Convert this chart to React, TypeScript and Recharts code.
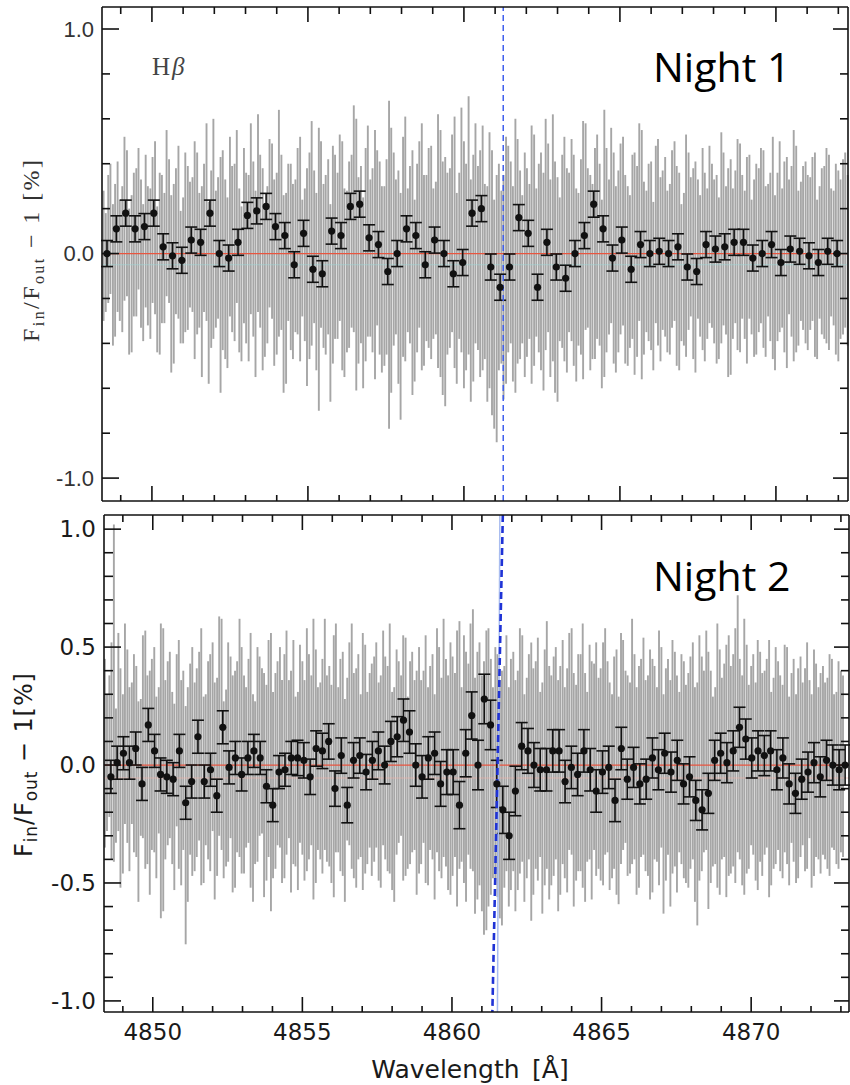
import React from 'react';
import { ComposedChart, Scatter, ErrorBar, XAxis, YAxis, ReferenceLine } from 'recharts';

// ---------- Night 1 (top panel) ----------
const topBinW = [
  4848.56, 4848.86, 4849.16, 4849.46, 4849.76, 4850.06, 4850.36, 4850.66, 4850.96, 4851.26,
  4851.56, 4851.86, 4852.16, 4852.46, 4852.76, 4853.06, 4853.36, 4853.66, 4853.96, 4854.26,
  4854.56, 4854.86, 4855.16, 4855.46, 4855.76, 4856.06, 4856.36, 4856.66, 4856.96, 4857.26,
  4857.56, 4857.86, 4858.16, 4858.46, 4858.76, 4859.06, 4859.36, 4859.66, 4859.96, 4860.26,
  4860.56, 4860.86, 4861.16, 4861.46, 4861.76, 4862.06, 4862.36, 4862.66, 4862.96, 4863.26,
  4863.56, 4863.86, 4864.16, 4864.46, 4864.76, 4865.06, 4865.36, 4865.66, 4865.96, 4866.26,
  4866.56, 4866.86, 4867.16, 4867.46, 4867.76, 4868.06, 4868.36, 4868.66, 4868.96, 4869.26,
  4869.56, 4869.86, 4870.16, 4870.46, 4870.76, 4871.06, 4871.36, 4871.66, 4871.96,
];
const topBinV = [
  0.00, 0.11, 0.18, 0.11, 0.12, 0.18, 0.03, -0.01, -0.03, 0.06,
  0.05, 0.18, 0.00, -0.02, 0.05, 0.17, 0.19, 0.21, 0.12, 0.08,
  -0.05, 0.09, -0.07, -0.09, 0.10, 0.08, 0.21, 0.22, 0.07, 0.04,
  -0.08, 0.00, 0.11, 0.08, -0.05, 0.06, 0.00, -0.09, -0.04, 0.18,
  0.20, -0.06, -0.15, -0.06, 0.16, 0.09, -0.15, 0.05, -0.06, -0.11,
  0.00, 0.08, 0.22, 0.11, -0.02, 0.06, -0.07, 0.04, 0.00, 0.01,
  0.00, 0.03, -0.06, -0.08, 0.04, 0.02, 0.03, 0.05, 0.05, -0.02,
  0.00, 0.04, -0.04, 0.02, 0.01, -0.01, -0.04, 0.01, 0.00,
];
const TOP_BIN_ERR = 0.058;

const topGrayW = [
  4848.45, 4848.60, 4848.75, 4848.90, 4849.05, 4849.20, 4849.35, 4849.50, 4849.65, 4849.80,
  4849.95, 4850.10, 4850.25, 4850.40, 4850.55, 4850.70, 4850.85, 4851.00, 4851.15, 4851.30,
  4851.45, 4851.60, 4851.75, 4851.90, 4852.05, 4852.20, 4852.35, 4852.50, 4852.65, 4852.80,
  4852.95, 4853.10, 4853.25, 4853.40, 4853.55, 4853.70, 4853.85, 4854.00, 4854.15, 4854.30,
  4854.45, 4854.60, 4854.75, 4854.90, 4855.05, 4855.20, 4855.35, 4855.50, 4855.65, 4855.80,
  4855.95, 4856.10, 4856.25, 4856.40, 4856.55, 4856.70, 4856.85, 4857.00, 4857.15, 4857.30,
  4857.45, 4857.60, 4857.75, 4857.90, 4858.05, 4858.20, 4858.35, 4858.50, 4858.65, 4858.80,
  4858.95, 4859.10, 4859.25, 4859.40, 4859.55, 4859.70, 4859.85, 4860.00, 4860.15, 4860.30,
  4860.45, 4860.60, 4860.75, 4860.90, 4861.05, 4861.20, 4861.35, 4861.50, 4861.65, 4861.80,
  4861.95, 4862.10, 4862.25, 4862.40, 4862.55, 4862.70, 4862.85, 4863.00, 4863.15, 4863.30,
  4863.45, 4863.60, 4863.75, 4863.90, 4864.05, 4864.20, 4864.35, 4864.50, 4864.65, 4864.80,
  4864.95, 4865.10, 4865.25, 4865.40, 4865.55, 4865.70, 4865.85, 4866.00, 4866.15, 4866.30,
  4866.45, 4866.60, 4866.75, 4866.90, 4867.05, 4867.20, 4867.35, 4867.50, 4867.65, 4867.80,
  4867.95, 4868.10, 4868.25, 4868.40, 4868.55, 4868.70, 4868.85, 4869.00, 4869.15, 4869.30,
  4869.45, 4869.60, 4869.75, 4869.90, 4870.05, 4870.20, 4870.35, 4870.50, 4870.65, 4870.80,
  4870.95, 4871.10, 4871.25, 4871.40, 4871.55, 4871.70, 4871.85, 4872.00, 4872.15, 4872.30,
];
const topGrayHi = [
  0.28, 0.35, 0.22, 0.41, 0.30, 0.46, 0.26, 0.38, 0.33, 0.44,
  0.29, 0.50, 0.36, 0.27, 0.42, 0.31, 0.48, 0.25, 0.39, 0.34,
  0.45, 0.30, 0.58, 0.37, 0.28, 0.43, 0.33, 0.52, 0.40, 0.29,
  0.47, 0.35, 0.41, 0.62, 0.38, 0.30, 0.49, 0.36, 0.44, 0.27,
  0.40, 0.33, 0.52, 0.29, 0.45, 0.37, 0.56, 0.31, 0.42, 0.48,
  0.36, 0.50, 0.28, 0.44, 0.60, 0.39, 0.47, 0.33, 0.55, 0.41,
  0.30, 0.68, 0.45, 0.37, 0.52, 0.29, 0.46, 0.40, 0.58, 0.35,
  0.48, 0.32, 0.55, 0.43, 0.38, 0.61, 0.36, 0.50, 0.70, 0.44,
  0.39, 0.57, 0.30, 0.46, 0.35, 0.28, 0.52, 0.41, 0.60, 0.37,
  0.45, 0.31, 0.53, 0.40, 0.36, 0.49, 0.62, 0.34, 0.44, 0.38,
  0.51, 0.29, 0.42, 0.58, 0.35, 0.47, 0.40, 0.64, 0.33, 0.45,
  0.37, 0.52, 0.30, 0.44, 0.39, 0.55, 0.28, 0.41, 0.48, 0.34,
  0.43, 0.31, 0.50, 0.36, 0.27, 0.45, 0.38, 0.33, 0.47, 0.29,
  0.40, 0.35, 0.54, 0.30, 0.42, 0.37, 0.49, 0.28, 0.44, 0.33,
  0.38, 0.46, 0.31, 0.52, 0.36, 0.29, 0.43, 0.39, 0.48, 0.32,
  0.41, 0.34, 0.45, 0.30, 0.39, 0.44, 0.28, 0.37, 0.42, 0.35,
];
const topGrayLo = [
  -0.30, -0.22, -0.41, -0.26, -0.35, -0.19, -0.44, -0.28, -0.33, -0.24,
  -0.38, -0.27, -0.45, -0.31, -0.22, -0.49, -0.29, -0.40, -0.34, -0.26,
  -0.36, -0.55, -0.30, -0.42, -0.33, -0.62, -0.47, -0.28, -0.39, -0.44,
  -0.31, -0.48, -0.37, -0.26, -0.52, -0.40, -0.29, -0.45, -0.34, -0.58,
  -0.43, -0.35, -0.48, -0.39, -0.47, -0.31, -0.70, -0.42, -0.36, -0.49,
  -0.38, -0.52, -0.44, -0.33, -0.61, -0.40, -0.48, -0.37, -0.56, -0.45,
  -0.50, -0.78, -0.41, -0.58, -0.46, -0.35, -0.63, -0.44, -0.52, -0.39,
  -0.47, -0.36, -0.55, -0.68, -0.42, -0.51, -0.38, -0.60, -0.45, -0.57,
  -0.43, -0.52, -0.66, -0.72, -0.84, -0.49, -0.58, -0.40, -0.62, -0.47,
  -0.55, -0.38, -0.50, -0.44, -0.61, -0.35, -0.48, -0.66, -0.42, -0.53,
  -0.39, -0.57, -0.45, -0.34, -0.52, -0.47, -0.41, -0.55, -0.36, -0.49,
  -0.44, -0.32, -0.50, -0.38, -0.46, -0.56, -0.35, -0.43, -0.31, -0.48,
  -0.37, -0.45, -0.30, -0.52, -0.41, -0.34, -0.47, -0.29, -0.43, -0.38,
  -0.33, -0.49, -0.40, -0.36, -0.54, -0.31, -0.44, -0.38, -0.29, -0.46,
  -0.35, -0.42, -0.28, -0.47, -0.39, -0.33, -0.51, -0.37, -0.44, -0.30,
  -0.40, -0.34, -0.46, -0.29, -0.38, -0.43, -0.32, -0.48, -0.36, -0.41,
];
// interleaved pixels (half-step)
const topGray2W = [
  4848.52, 4848.67, 4848.82, 4848.97, 4849.12, 4849.27, 4849.42, 4849.57, 4849.72, 4849.87,
  4850.02, 4850.17, 4850.32, 4850.47, 4850.62, 4850.77, 4850.92, 4851.07, 4851.22, 4851.37,
  4851.52, 4851.67, 4851.82, 4851.97, 4852.12, 4852.27, 4852.42, 4852.57, 4852.72, 4852.87,
  4853.02, 4853.17, 4853.32, 4853.47, 4853.62, 4853.77, 4853.92, 4854.07, 4854.22, 4854.37,
  4854.52, 4854.67, 4854.82, 4854.97, 4855.12, 4855.27, 4855.42, 4855.57, 4855.72, 4855.87,
  4856.02, 4856.17, 4856.32, 4856.47, 4856.62, 4856.77, 4856.92, 4857.07, 4857.22, 4857.37,
  4857.52, 4857.67, 4857.82, 4857.97, 4858.12, 4858.27, 4858.42, 4858.57, 4858.72, 4858.87,
  4859.02, 4859.17, 4859.32, 4859.47, 4859.62, 4859.77, 4859.92, 4860.07, 4860.22, 4860.37,
  4860.52, 4860.67, 4860.82, 4860.97, 4861.12, 4861.27, 4861.42, 4861.57, 4861.72, 4861.87,
  4862.02, 4862.17, 4862.32, 4862.47, 4862.62, 4862.77, 4862.92, 4863.07, 4863.22, 4863.37,
  4863.52, 4863.67, 4863.82, 4863.97, 4864.12, 4864.27, 4864.42, 4864.57, 4864.72, 4864.87,
  4865.02, 4865.17, 4865.32, 4865.47, 4865.62, 4865.77, 4865.92, 4866.07, 4866.22, 4866.37,
  4866.52, 4866.67, 4866.82, 4866.97, 4867.12, 4867.27, 4867.42, 4867.57, 4867.72, 4867.87,
  4868.02, 4868.17, 4868.32, 4868.47, 4868.62, 4868.77, 4868.92, 4869.07, 4869.22, 4869.37,
  4869.52, 4869.67, 4869.82, 4869.97, 4870.12, 4870.27, 4870.42, 4870.57, 4870.72, 4870.87,
  4871.02, 4871.17, 4871.32, 4871.47, 4871.62, 4871.77, 4871.92, 4872.07, 4872.22,
];
const topGray2Hi = [
  0.18, 0.40, 0.31, 0.24, 0.52, 0.20, 0.36, 0.47, 0.22, 0.30,
  0.43, 0.21, 0.35, 0.55, 0.26, 0.38, 0.19, 0.45, 0.32, 0.50,
  0.27, 0.40, 0.23, 0.60, 0.34, 0.46, 0.25, 0.39, 0.55, 0.21,
  0.36, 0.58, 0.28, 0.44, 0.22, 0.51, 0.33, 0.64, 0.26, 0.40,
  0.31, 0.47, 0.24, 0.38, 0.59, 0.27, 0.50, 0.35, 0.22, 0.44,
  0.53, 0.29, 0.41, 0.66, 0.34, 0.25, 0.57, 0.38, 0.46, 0.30,
  0.42, 0.56, 0.33, 0.27, 0.61, 0.39, 0.24, 0.50, 0.35, 0.47,
  0.29, 0.62, 0.41, 0.36, 0.53, 0.27, 0.65, 0.40, 0.33, 0.58,
  0.46, 0.31, 0.54, 0.24, 0.40, 0.35, 0.48, 0.30, 0.51, 0.26,
  0.38, 0.57, 0.29, 0.45, 0.60, 0.33, 0.41, 0.25, 0.52, 0.36,
  0.44, 0.27, 0.59, 0.38, 0.31, 0.53, 0.24, 0.47, 0.56, 0.30,
  0.49, 0.35, 0.26, 0.45, 0.58, 0.32, 0.40, 0.23, 0.51, 0.37,
  0.28, 0.46, 0.39, 0.22, 0.53, 0.34, 0.41, 0.26, 0.36, 0.48,
  0.33, 0.25, 0.45, 0.38, 0.29, 0.51, 0.35, 0.43, 0.24, 0.40,
  0.47, 0.30, 0.36, 0.26, 0.50, 0.41, 0.33, 0.55, 0.28, 0.39,
  0.35, 0.43, 0.24, 0.38, 0.47, 0.29, 0.40, 0.33, 0.45,
];
const topGray2Lo = [
  -0.26, -0.18, -0.37, -0.30, -0.21, -0.45, -0.28, -0.16, -0.39, -0.32,
  -0.22, -0.44, -0.31, -0.19, -0.53, -0.27, -0.40, -0.35, -0.24, -0.47,
  -0.33, -0.26, -0.58, -0.38, -0.29, -0.43, -0.51, -0.35, -0.22, -0.48,
  -0.40, -0.27, -0.55, -0.33, -0.46, -0.24, -0.50, -0.37, -0.62, -0.30,
  -0.47, -0.36, -0.28, -0.59, -0.41, -0.52, -0.33, -0.45, -0.66, -0.38,
  -0.30, -0.55, -0.42, -0.35, -0.49, -0.60, -0.37, -0.44, -0.32, -0.53,
  -0.45, -0.62, -0.36, -0.74, -0.48, -0.40, -0.57, -0.33, -0.50, -0.42,
  -0.38, -0.51, -0.63, -0.45, -0.35, -0.58, -0.44, -0.52, -0.66, -0.40,
  -0.55, -0.47, -0.60, -0.78, -0.52, -0.65, -0.44, -0.57, -0.49, -0.40,
  -0.46, -0.58, -0.37, -0.52, -0.43, -0.55, -0.62, -0.39, -0.48, -0.35,
  -0.50, -0.41, -0.56, -0.33, -0.47, -0.38, -0.60, -0.44, -0.31, -0.53,
  -0.36, -0.49, -0.42, -0.54, -0.30, -0.45, -0.39, -0.52, -0.41, -0.34,
  -0.44, -0.33, -0.50, -0.39, -0.46, -0.28, -0.53, -0.37, -0.48, -0.31,
  -0.40, -0.47, -0.32, -0.55, -0.38, -0.43, -0.29, -0.49, -0.36, -0.45,
  -0.31, -0.46, -0.39, -0.52, -0.35, -0.44, -0.27, -0.48, -0.41, -0.34,
  -0.43, -0.30, -0.47, -0.36, -0.40, -0.28, -0.45, -0.38, -0.33,
];

// ---------- Night 2 (bottom panel) ----------
const botBinW = [
  4848.60, 4848.81, 4849.02, 4849.22, 4849.43, 4849.64, 4849.85, 4850.06, 4850.26, 4850.47,
  4850.68, 4850.89, 4851.10, 4851.30, 4851.51, 4851.72, 4851.93, 4852.14, 4852.34, 4852.55,
  4852.76, 4852.97, 4853.18, 4853.38, 4853.59, 4853.80, 4854.01, 4854.22, 4854.42, 4854.63,
  4854.84, 4855.05, 4855.26, 4855.46, 4855.67, 4855.88, 4856.09, 4856.30, 4856.50, 4856.71,
  4856.92, 4857.13, 4857.34, 4857.54, 4857.75, 4857.96, 4858.17, 4858.38, 4858.58, 4858.79,
  4859.00, 4859.21, 4859.42, 4859.62, 4859.83, 4860.04, 4860.25, 4860.46, 4860.66, 4860.87,
  4861.08, 4861.29, 4861.50, 4861.70, 4861.91, 4862.12, 4862.33, 4862.54, 4862.74, 4862.95,
  4863.16, 4863.37, 4863.58, 4863.78, 4863.99, 4864.20, 4864.41, 4864.62, 4864.82, 4865.03,
  4865.24, 4865.45, 4865.66, 4865.86, 4866.07, 4866.28, 4866.49, 4866.70, 4866.90, 4867.11,
  4867.32, 4867.53, 4867.74, 4867.94, 4868.15, 4868.36, 4868.57, 4868.78, 4868.98, 4869.19,
  4869.40, 4869.61, 4869.82, 4870.02, 4870.23, 4870.44, 4870.65, 4870.86, 4871.06, 4871.27,
  4871.48, 4871.69, 4871.90, 4872.10, 4872.31, 4872.52, 4872.73, 4872.94, 4873.14,
];
const botBinV = [
  -0.05, 0.01, 0.05, 0.01, 0.07, -0.08, 0.17, 0.06, -0.04, -0.05,
  -0.06, 0.06, -0.16, -0.07, 0.12, -0.07, -0.02, -0.13, 0.16, -0.01,
  0.03, -0.04, 0.03, 0.06, 0.03, -0.09, -0.17, -0.03, -0.02, 0.03,
  0.03, 0.02, -0.05, 0.07, 0.06, 0.10, -0.10, 0.04, -0.17, 0.02,
  0.04, -0.03, 0.02, 0.06, 0.00, 0.10, 0.12, 0.19, 0.14, 0.00,
  -0.05, 0.03, 0.05, -0.08, -0.03, -0.03, -0.17, 0.05, 0.21, 0.00,
  0.28, 0.17, -0.08, -0.19, -0.30, -0.11, 0.08, 0.06, 0.00, -0.02,
  -0.02, 0.06, 0.06, -0.07, -0.01, -0.04, 0.06, -0.02, -0.11, -0.03,
  -0.01, -0.15, 0.07, -0.06, -0.01, -0.08, -0.06, 0.03, -0.02, 0.05,
  -0.03, 0.02, -0.08, -0.05, -0.15, -0.19, -0.12, 0.02, 0.05, 0.01,
  0.06, 0.16, 0.11, 0.03, 0.06, 0.04, 0.06, -0.02, 0.03, -0.08,
  -0.12, -0.06, -0.03, 0.01, -0.05, 0.02, 0.00, -0.02, 0.00,
];
const botBinE = [
  0.07, 0.07, 0.07, 0.07, 0.07, 0.07, 0.07, 0.07, 0.07, 0.07,
  0.07, 0.07, 0.07, 0.07, 0.07, 0.07, 0.07, 0.07, 0.07, 0.07,
  0.07, 0.07, 0.07, 0.07, 0.07, 0.07, 0.07, 0.07, 0.07, 0.07,
  0.075, 0.075, 0.075, 0.075, 0.075, 0.075, 0.075, 0.075, 0.075, 0.075,
  0.075, 0.075, 0.08, 0.08, 0.08, 0.085, 0.085, 0.09, 0.09, 0.09,
  0.09, 0.09, 0.09, 0.095, 0.095, 0.095, 0.1, 0.1, 0.1, 0.105,
  0.105, 0.105, 0.1, 0.1, 0.1, 0.105, 0.1, 0.095, 0.095, 0.09,
  0.09, 0.09, 0.09, 0.09, 0.09, 0.09, 0.09, 0.09, 0.09, 0.09,
  0.09, 0.09, 0.09, 0.085, 0.085, 0.085, 0.085, 0.085, 0.085, 0.085,
  0.085, 0.085, 0.085, 0.085, 0.085, 0.085, 0.085, 0.085, 0.085, 0.085,
  0.085, 0.085, 0.085, 0.085, 0.085, 0.085, 0.085, 0.085, 0.085, 0.085,
  0.085, 0.085, 0.085, 0.085, 0.085, 0.085, 0.085, 0.085, 0.085,
];

const botGrayW = [
  4848.40, 4848.55, 4848.70, 4848.85, 4849.00, 4849.15, 4849.30, 4849.45, 4849.60, 4849.75,
  4849.90, 4850.05, 4850.20, 4850.35, 4850.50, 4850.65, 4850.80, 4850.95, 4851.10, 4851.25,
  4851.40, 4851.55, 4851.70, 4851.85, 4852.00, 4852.15, 4852.30, 4852.45, 4852.60, 4852.75,
  4852.90, 4853.05, 4853.20, 4853.35, 4853.50, 4853.65, 4853.80, 4853.95, 4854.10, 4854.25,
  4854.40, 4854.55, 4854.70, 4854.85, 4855.00, 4855.15, 4855.30, 4855.45, 4855.60, 4855.75,
  4855.90, 4856.05, 4856.20, 4856.35, 4856.50, 4856.65, 4856.80, 4856.95, 4857.10, 4857.25,
  4857.40, 4857.55, 4857.70, 4857.85, 4858.00, 4858.15, 4858.30, 4858.45, 4858.60, 4858.75,
  4858.90, 4859.05, 4859.20, 4859.35, 4859.50, 4859.65, 4859.80, 4859.95, 4860.10, 4860.25,
  4860.40, 4860.55, 4860.70, 4860.85, 4861.00, 4861.15, 4861.30, 4861.45, 4861.60, 4861.75,
  4861.90, 4862.05, 4862.20, 4862.35, 4862.50, 4862.65, 4862.80, 4862.95, 4863.10, 4863.25,
  4863.40, 4863.55, 4863.70, 4863.85, 4864.00, 4864.15, 4864.30, 4864.45, 4864.60, 4864.75,
  4864.90, 4865.05, 4865.20, 4865.35, 4865.50, 4865.65, 4865.80, 4865.95, 4866.10, 4866.25,
  4866.40, 4866.55, 4866.70, 4866.85, 4867.00, 4867.15, 4867.30, 4867.45, 4867.60, 4867.75,
  4867.90, 4868.05, 4868.20, 4868.35, 4868.50, 4868.65, 4868.80, 4868.95, 4869.10, 4869.25,
  4869.40, 4869.55, 4869.70, 4869.85, 4870.00, 4870.15, 4870.30, 4870.45, 4870.60, 4870.75,
  4870.90, 4871.05, 4871.20, 4871.35, 4871.50, 4871.65, 4871.80, 4871.95, 4872.10, 4872.25,
  4872.40, 4872.55, 4872.70, 4872.85, 4873.00,
];
const botGrayHi = [
  0.45, 0.38, 1.02, 0.56, 0.30, 0.49, 0.35, 0.42, 0.28, 0.57,
  0.40, 0.50, 0.33, 0.58, 0.44, 0.31, 0.47, 0.36, 0.25, 0.43,
  0.35, 0.48, 0.29, 0.44, 0.52, 0.37, 0.62, 0.32, 0.46, 0.40,
  0.62, 0.38, 0.45, 0.30, 0.50, 0.41, 0.34, 0.56, 0.39, 0.50,
  0.47, 0.36, 0.53, 0.31, 0.44, 0.58, 0.38, 0.49, 0.35, 0.62,
  0.42, 0.55, 0.33, 0.48, 0.37, 0.60, 0.41, 0.30, 0.51, 0.39,
  0.46, 0.35, 0.57, 0.42, 0.31, 0.49, 0.38, 0.54, 0.44, 0.36,
  0.50, 0.40, 0.33, 0.47, 0.58, 0.37, 0.45, 0.52, 0.39, 0.61,
  0.55, 0.43, 0.66, 0.48, 0.38, 0.57, 0.45, 0.50, 0.36, 0.42,
  0.33, 0.48, 0.40, 0.55, 0.37, 0.52, 0.44, 0.31, 0.49, 0.42,
  0.46, 0.36, 0.53, 0.41, 0.58, 0.34, 0.47, 0.39, 0.51, 0.43,
  0.37, 0.52, 0.44, 0.30, 0.49, 0.56, 0.40, 0.35, 0.47, 0.42,
  0.54, 0.38, 0.45, 0.33, 0.50, 0.41, 0.36, 0.48, 0.31, 0.44,
  0.39, 0.52, 0.35, 0.46, 0.57, 0.40, 0.33, 0.49, 0.43, 0.55,
  0.47, 0.72, 0.38, 0.51, 0.42, 0.35, 0.48, 0.40, 0.53, 0.37,
  0.44, 0.34, 0.50, 0.39, 0.30, 0.46, 0.41, 0.36, 0.49, 0.33,
  0.42, 0.37, 0.45, 0.31, 0.40,
];
const botGrayLo = [
  -0.35, -0.22, -0.41, -0.28, -0.46, -0.33, -0.25, -0.39, -0.30, -0.44,
  -0.55, -0.37, -0.29, -0.62, -0.34, -0.42, -0.26, -0.51, -0.76, -0.38,
  -0.45, -0.32, -0.50, -0.40, -0.28, -0.47, -0.36, -0.43, -0.31, -0.52,
  -0.39, -0.46, -0.33, -0.58, -0.41, -0.29, -0.49, -0.62, -0.44, -0.35,
  -0.48, -0.31, -0.42, -0.53, -0.38, -0.45, -0.34, -0.50, -0.40, -0.36,
  -0.43, -0.56, -0.37, -0.47, -0.32, -0.44, -0.52, -0.39, -0.46, -0.35,
  -0.41, -0.49, -0.34, -0.45, -0.53, -0.38, -0.30, -0.47, -0.42, -0.36,
  -0.46, -0.33, -0.51, -0.40, -0.37, -0.48, -0.43, -0.55, -0.39, -0.44,
  -0.50, -0.38, -0.45, -0.57, -0.62, -0.70, -0.55, -0.48, -0.65, -0.52,
  -0.60, -0.45, -0.53, -0.41, -0.48, -0.66, -0.44, -0.39, -0.51, -0.57,
  -0.47, -0.62, -0.42, -0.54, -0.38, -0.49, -0.45, -0.58, -0.40, -0.36,
  -0.44, -0.51, -0.37, -0.48, -0.55, -0.42, -0.33, -0.46, -0.40, -0.52,
  -0.38, -0.47, -0.54, -0.41, -0.35, -0.49, -0.60, -0.43, -0.37, -0.48,
  -0.52, -0.40, -0.68, -0.45, -0.36, -0.50, -0.42, -0.55, -0.39, -0.47,
  -0.43, -0.37, -0.51, -0.46, -0.34, -0.49, -0.41, -0.38, -0.56, -0.44,
  -0.36, -0.48, -0.42, -0.33, -0.50, -0.39, -0.45, -0.31, -0.47, -0.40,
  -0.38, -0.44, -0.35, -0.42, -0.37,
];
const botGray2W = [
  4848.47, 4848.62, 4848.77, 4848.92, 4849.07, 4849.22, 4849.37, 4849.52, 4849.67, 4849.82,
  4849.97, 4850.12, 4850.27, 4850.42, 4850.57, 4850.72, 4850.87, 4851.02, 4851.17, 4851.32,
  4851.47, 4851.62, 4851.77, 4851.92, 4852.07, 4852.22, 4852.37, 4852.52, 4852.67, 4852.82,
  4852.97, 4853.12, 4853.27, 4853.42, 4853.57, 4853.72, 4853.87, 4854.02, 4854.17, 4854.32,
  4854.47, 4854.62, 4854.77, 4854.92, 4855.07, 4855.22, 4855.37, 4855.52, 4855.67, 4855.82,
  4855.97, 4856.12, 4856.27, 4856.42, 4856.57, 4856.72, 4856.87, 4857.02, 4857.17, 4857.32,
  4857.47, 4857.62, 4857.77, 4857.92, 4858.07, 4858.22, 4858.37, 4858.52, 4858.67, 4858.82,
  4858.97, 4859.12, 4859.27, 4859.42, 4859.57, 4859.72, 4859.87, 4860.02, 4860.17, 4860.32,
  4860.47, 4860.62, 4860.77, 4860.92, 4861.07, 4861.22, 4861.37, 4861.52, 4861.67, 4861.82,
  4861.97, 4862.12, 4862.27, 4862.42, 4862.57, 4862.72, 4862.87, 4863.02, 4863.17, 4863.32,
  4863.47, 4863.62, 4863.77, 4863.92, 4864.07, 4864.22, 4864.37, 4864.52, 4864.67, 4864.82,
  4864.97, 4865.12, 4865.27, 4865.42, 4865.57, 4865.72, 4865.87, 4866.02, 4866.17, 4866.32,
  4866.47, 4866.62, 4866.77, 4866.92, 4867.07, 4867.22, 4867.37, 4867.52, 4867.67, 4867.82,
  4867.97, 4868.12, 4868.27, 4868.42, 4868.57, 4868.72, 4868.87, 4869.02, 4869.17, 4869.32,
  4869.47, 4869.62, 4869.77, 4869.92, 4870.07, 4870.22, 4870.37, 4870.52, 4870.67, 4870.82,
  4870.97, 4871.12, 4871.27, 4871.42, 4871.57, 4871.72, 4871.87, 4872.02, 4872.17, 4872.32,
  4872.47, 4872.62, 4872.77, 4872.92, 4873.07,
];
const botGray2Hi = [
  0.30, 0.52, 0.24, 0.41, 0.60, 0.33, 0.47, 0.27, 0.55, 0.38,
  0.45, 0.29, 0.60, 0.36, 0.48, 0.26, 0.53, 0.40, 0.33, 0.50,
  0.41, 0.58, 0.30, 0.47, 0.35, 0.63, 0.27, 0.52, 0.38, 0.44,
  0.50, 0.33, 0.56, 0.27, 0.46, 0.39, 0.53, 0.31, 0.44, 0.36,
  0.57, 0.40, 0.29, 0.51, 0.36, 0.47, 0.62, 0.33, 0.45, 0.38,
  0.34, 0.60, 0.45, 0.28, 0.52, 0.39, 0.47, 0.56, 0.31, 0.43,
  0.52, 0.38, 0.46, 0.60, 0.33, 0.44, 0.55, 0.29, 0.48, 0.40,
  0.36, 0.55, 0.42, 0.30, 0.50, 0.62, 0.38, 0.46, 0.57, 0.33,
  0.48, 0.60, 0.37, 0.52, 0.44, 0.58, 0.33, 0.47, 0.40, 0.55,
  0.45, 0.36, 0.58, 0.30, 0.47, 0.41, 0.54, 0.35, 0.61, 0.38,
  0.50, 0.42, 0.33, 0.56, 0.39, 0.47, 0.60, 0.31, 0.44, 0.52,
  0.41, 0.58, 0.35, 0.46, 0.29, 0.53, 0.38, 0.62, 0.33, 0.45,
  0.36, 0.49, 0.42, 0.57, 0.30, 0.45, 0.53, 0.38, 0.47, 0.34,
  0.46, 0.33, 0.55, 0.40, 0.48, 0.29, 0.60, 0.37, 0.51, 0.42,
  0.58, 0.45, 0.62, 0.34, 0.47, 0.53, 0.39, 0.45, 0.31, 0.50,
  0.38, 0.51, 0.29, 0.45, 0.41, 0.35, 0.52, 0.30, 0.43, 0.39,
  0.35, 0.47, 0.30, 0.44, 0.38,
];
const botGray2Lo = [
  -0.28, -0.40, -0.33, -0.52, -0.25, -0.45, -0.37, -0.58, -0.31, -0.42,
  -0.36, -0.48, -0.65, -0.40, -0.31, -0.53, -0.44, -0.36, -0.58, -0.47,
  -0.39, -0.51, -0.34, -0.45, -0.57, -0.30, -0.48, -0.41, -0.54, -0.37,
  -0.46, -0.35, -0.52, -0.42, -0.30, -0.56, -0.39, -0.48, -0.34, -0.50,
  -0.38, -0.54, -0.43, -0.33, -0.49, -0.40, -0.57, -0.36, -0.46, -0.41,
  -0.50, -0.37, -0.45, -0.58, -0.34, -0.48, -0.40, -0.53, -0.42, -0.47,
  -0.35, -0.52, -0.40, -0.46, -0.58, -0.33, -0.49, -0.44, -0.37, -0.55,
  -0.42, -0.50, -0.36, -0.57, -0.45, -0.39, -0.53, -0.47, -0.60, -0.41,
  -0.58, -0.44, -0.63, -0.51, -0.72, -0.60, -0.48, -0.56, -0.68, -0.45,
  -0.53, -0.62, -0.46, -0.58, -0.40, -0.55, -0.49, -0.63, -0.44, -0.51,
  -0.40, -0.55, -0.48, -0.36, -0.60, -0.45, -0.52, -0.41, -0.57, -0.47,
  -0.49, -0.38, -0.53, -0.44, -0.59, -0.36, -0.47, -0.42, -0.55, -0.39,
  -0.45, -0.57, -0.40, -0.51, -0.63, -0.38, -0.46, -0.54, -0.42, -0.50,
  -0.44, -0.58, -0.49, -0.37, -0.61, -0.43, -0.52, -0.40, -0.56, -0.46,
  -0.50, -0.40, -0.55, -0.44, -0.38, -0.53, -0.47, -0.35, -0.51, -0.42,
  -0.45, -0.37, -0.51, -0.41, -0.48, -0.34, -0.44, -0.52, -0.39, -0.46,
  -0.40, -0.47, -0.36, -0.44, -0.39,
];

// ---------- axes ----------
const topXTicks = [4849, 4850, 4851, 4852, 4853, 4854, 4855, 4856, 4857, 4858, 4859, 4860, 4861, 4862, 4863, 4864, 4865, 4866, 4867, 4868, 4869, 4870, 4871, 4872];
const botXTicks = [4849, 4850, 4851, 4852, 4853, 4854, 4855, 4856, 4857, 4858, 4859, 4860, 4861, 4862, 4863, 4864, 4865, 4866, 4867, 4868, 4869, 4870, 4871, 4872, 4873];
const topYTicks = [-1.0, -0.8, -0.6, -0.4, -0.2, 0.0, 0.2, 0.4, 0.6, 0.8, 1.0];
const botYTicks = [-1.0, -0.9, -0.8, -0.7, -0.6, -0.5, -0.4, -0.3, -0.2, -0.1, 0.0, 0.1, 0.2, 0.3, 0.4, 0.5, 0.6, 0.7, 0.8, 0.9, 1.0];
const topXDomain = [4848.40, 4872.31];
const botXDomain = [4848.37, 4873.27];
const topYDomain = [-1.102, 1.098];
const botYDomain = [-1.047, 1.06];
const topLineW = 4861.26;
const botLineW = [4861.70, 4861.35];
const botLineW2 = [4861.60, 4861.52];

const topBins = topBinW.map((x, i) => ({ x, y: topBinV[i], e: TOP_BIN_ERR }));
const topGray = topGrayW.map((x, i) => ({ x, y: topGrayLo[i], e: [0, topGrayHi[i] - topGrayLo[i]] }));
const topGray2 = topGray2W.map((x, i) => ({ x, y: topGray2Lo[i], e: [0, topGray2Hi[i] - topGray2Lo[i]] }));
const botBins = botBinW.map((x, i) => ({ x, y: botBinV[i], e: botBinE[i] }));
const botGray = botGrayW.map((x, i) => ({ x, y: botGrayLo[i], e: [0, botGrayHi[i] - botGrayLo[i]] }));
const botGray2 = botGray2W.map((x, i) => ({ x, y: botGray2Lo[i], e: [0, botGray2Hi[i] - botGray2Lo[i]] }));

const SANS_TOP = '"Liberation Sans", Arial, sans-serif';
const SANS_BOT = '"DejaVu Sans", sans-serif';
const SERIF = '"Liberation Serif", "Times New Roman", serif';
const AX = '#111';
const GRAY = '#a6a6a6';
const GRAY_W = 1.9;

const majX = (v: number) => Math.round(v) % 5 === 0;
const majYTop = (v: number) => Math.abs(Math.round(v * 10)) % 10 === 0;
const majYBot = (v: number) => Math.abs(Math.round(v * 10)) % 5 === 0;
const fmtY = (v: number) => (Math.abs(v) < 1e-9 ? '0.0' : v.toFixed(1));

const leftTick = (isMaj: (v: number) => boolean, font: string, size: number, color: string, majLen: number, minLen: number) => (p: any) => {
  const v = p.payload.value;
  const m = isMaj(v);
  return (
    <g>
      <line x1={p.x} y1={p.y} x2={p.x + (m ? majLen : minLen)} y2={p.y} stroke={AX} strokeWidth={1.6} />
      {m && (
        <text x={p.x - 8} y={p.y} dy="0.36em" textAnchor="end" fontFamily={font} fontSize={size} fill={color}>
          {fmtY(v)}
        </text>
      )}
    </g>
  );
};
const rightTick = (isMaj: (v: number) => boolean, majLen: number, minLen: number) => (p: any) => {
  const m = isMaj(p.payload.value);
  return <line x1={p.x} y1={p.y} x2={p.x - (m ? majLen : minLen)} y2={p.y} stroke={AX} strokeWidth={1.6} />;
};
const bottomTick = (showLabel: boolean) => (p: any) => {
  const v = p.payload.value;
  const m = majX(v);
  return (
    <g>
      <line x1={p.x} y1={p.y} x2={p.x} y2={p.y - (m ? 15 : 6)} stroke={AX} strokeWidth={1.6} />
      {m && showLabel && (
        <text x={p.x} y={p.y + 28} textAnchor="middle" fontFamily={SANS_BOT} fontSize={23} fill="#1a1a1a">
          {String(v)}
        </text>
      )}
    </g>
  );
};
const topTick = (p: any) => {
  const m = majX(p.payload.value);
  return <line x1={p.x} y1={p.y} x2={p.x} y2={p.y + (m ? 15 : 7)} stroke={AX} strokeWidth={1.6} />;
};

const hiddenShape = () => <g />;
const dotShape = (p: any) => <circle cx={p.cx} cy={p.cy} r={3.6} fill="#111" />;

const topLabels = () => (
  <g>
    <text x={152} y={75} fontFamily={SERIF} fontSize={25} fill="#444">
      H<tspan dx={2} fontStyle="italic">β</tspan>
    </text>
    <text x={653} y={82} fontFamily='"Open Sans", sans-serif' fontSize={41} fill="#000">
      Night 1
    </text>
    <text transform="translate(39,251) rotate(-90)" textAnchor="middle" fontFamily={SERIF} fontSize={24} fill="#333" textLength={182} lengthAdjust="spacing">
      F<tspan dy={5} fontSize={16}>in</tspan>
      <tspan dy={-5}>/F</tspan>
      <tspan dy={5} fontSize={16}>out</tspan>
      <tspan dy={-5}>{' \u2212 1 [%]'}</tspan>
    </text>
  </g>
);
const botLabels = () => (
  <g>
    <text x={653} y={86} fontFamily='"Open Sans", sans-serif' fontSize={41} fill="#000">
      Night 2
    </text>
    <text transform="translate(32,260) rotate(-90)" textAnchor="middle" fontFamily={SANS_BOT} fontSize={24} fill="#1a1a1a" textLength={184} lengthAdjust="spacing">
      F<tspan dy={5} fontSize={17}>in</tspan>
      <tspan dy={-5}>/F</tspan>
      <tspan dy={5} fontSize={17}>out</tspan>
      <tspan dy={-5}>{' \u2212 1[%]'}</tspan>
    </text>
    <text x={470} y={573} textAnchor="middle" fontFamily={SANS_BOT} fontSize={25} fill="#1a1a1a">
      {'Wavelength\u2002[\u00C5]'}
    </text>
  </g>
);

function TopPanel() {
  return (
    <ComposedChart width={850} height={510} margin={{ top: 6, right: 1, bottom: 8, left: 0 }}>
      <XAxis xAxisId="b" dataKey="x" type="number" domain={topXDomain} allowDataOverflow ticks={topXTicks} interval={0} height={1} tickSize={0} tickMargin={0} tickLine={false} axisLine={{ stroke: AX, strokeWidth: 1.6 }} tick={bottomTick(false)} />
      <XAxis xAxisId="t" orientation="top" dataKey="x" type="number" domain={topXDomain} allowDataOverflow ticks={topXTicks} interval={0} height={1} tickSize={0} tickMargin={0} tickLine={false} axisLine={{ stroke: AX, strokeWidth: 1.6 }} tick={topTick} label={topLabels} />
      <YAxis yAxisId="l" dataKey="y" type="number" domain={topYDomain} allowDataOverflow ticks={topYTicks} interval={0} width={102} tickSize={0} tickMargin={0} tickLine={false} axisLine={{ stroke: AX, strokeWidth: 1.6 }} tick={leftTick(majYTop, SANS_TOP, 22, '#333', 17, 8)} />
      <YAxis yAxisId="r" orientation="right" dataKey="y" type="number" domain={topYDomain} allowDataOverflow ticks={topYTicks} interval={0} width={1} tickSize={0} tickMargin={0} tickLine={false} axisLine={{ stroke: AX, strokeWidth: 1.6 }} tick={rightTick(majYTop, 15, 8)} />
      <Scatter xAxisId="b" yAxisId="l" data={topGray} shape={hiddenShape} isAnimationActive={false}>
        <ErrorBar dataKey="e" direction="y" width={0} stroke={GRAY} strokeWidth={GRAY_W} isAnimationActive={false} />
      </Scatter>
      <Scatter xAxisId="b" yAxisId="l" data={topGray2} shape={hiddenShape} isAnimationActive={false}>
        <ErrorBar dataKey="e" direction="y" width={0} stroke={GRAY} strokeWidth={GRAY_W} isAnimationActive={false} />
      </Scatter>
      <ReferenceLine xAxisId="b" yAxisId="l" y={-0.05} stroke="#9fd6d6" strokeWidth={1} strokeOpacity={0.6} />
      <ReferenceLine xAxisId="b" yAxisId="l" y={0} stroke="#e8553f" strokeWidth={1.3} />
      <Scatter xAxisId="b" yAxisId="l" data={topBins} shape={dotShape} isAnimationActive={false}>
        <ErrorBar dataKey="e" direction="y" width={6} stroke="#111" strokeWidth={1.6} isAnimationActive={false} />
      </Scatter>
      <ReferenceLine xAxisId="b" yAxisId="l" x={topLineW} stroke="#3f5fee" strokeWidth={1.5} strokeDasharray="6 4" />
    </ComposedChart>
  );
}

function BottomPanel() {
  return (
    <ComposedChart width={850} height={580} margin={{ top: 9, right: 0, bottom: 72, left: 0 }}>
      <XAxis xAxisId="b" dataKey="x" type="number" domain={botXDomain} allowDataOverflow ticks={botXTicks} interval={0} height={1} tickSize={0} tickMargin={0} tickLine={false} axisLine={{ stroke: AX, strokeWidth: 1.6 }} tick={bottomTick(true)} label={botLabels} />
      <XAxis xAxisId="t" orientation="top" dataKey="x" type="number" domain={botXDomain} allowDataOverflow ticks={botXTicks} interval={0} height={1} tickSize={0} tickMargin={0} tickLine={false} axisLine={{ stroke: AX, strokeWidth: 1.6 }} tick={topTick} />
      <YAxis yAxisId="l" dataKey="y" type="number" domain={botYDomain} allowDataOverflow ticks={botYTicks} interval={0} width={104} tickSize={0} tickMargin={0} tickLine={false} axisLine={{ stroke: AX, strokeWidth: 1.6 }} tick={leftTick(majYBot, SANS_BOT, 23, '#1a1a1a', 17, 9)} />
      <YAxis yAxisId="r" orientation="right" dataKey="y" type="number" domain={botYDomain} allowDataOverflow ticks={botYTicks} interval={0} width={1} tickSize={0} tickMargin={0} tickLine={false} axisLine={{ stroke: AX, strokeWidth: 1.6 }} tick={rightTick(majYBot, 15, 8)} />
      <Scatter xAxisId="b" yAxisId="l" data={botGray} shape={hiddenShape} isAnimationActive={false}>
        <ErrorBar dataKey="e" direction="y" width={0} stroke={GRAY} strokeWidth={GRAY_W} isAnimationActive={false} />
      </Scatter>
      <Scatter xAxisId="b" yAxisId="l" data={botGray2} shape={hiddenShape} isAnimationActive={false}>
        <ErrorBar dataKey="e" direction="y" width={0} stroke={GRAY} strokeWidth={GRAY_W} isAnimationActive={false} />
      </Scatter>
      <ReferenceLine xAxisId="b" yAxisId="l" y={-0.055} stroke="#f2b0a8" strokeWidth={1} strokeOpacity={0.6} />
      <ReferenceLine xAxisId="b" yAxisId="l" y={0} stroke="#e8553f" strokeWidth={1.3} />
      <Scatter xAxisId="b" yAxisId="l" data={botBins} shape={dotShape} isAnimationActive={false}>
        <ErrorBar dataKey="e" direction="y" width={6} stroke="#111" strokeWidth={1.6} isAnimationActive={false} />
      </Scatter>
      <ReferenceLine xAxisId="b" yAxisId="l" segment={[{ x: botLineW2[0], y: botYDomain[1] }, { x: botLineW2[1], y: botYDomain[0] }]} stroke="#a9bdf0" strokeWidth={1.5} ifOverflow="visible" />
      <ReferenceLine xAxisId="b" yAxisId="l" segment={[{ x: botLineW[0], y: botYDomain[1] }, { x: botLineW[1], y: botYDomain[0] }]} stroke="#1f33d6" strokeWidth={2.6} strokeDasharray="7 4" ifOverflow="visible" />
    </ComposedChart>
  );
}

export default function App() {
  return (
    <div style={{ position: 'absolute', left: 0, top: 0, width: 850, height: 1085, background: '#fff' }}>
      <div style={{ position: 'absolute', left: 0, top: 0 }}>
        <TopPanel />
      </div>
      <div style={{ position: 'absolute', left: 0, top: 505 }}>
        <BottomPanel />
      </div>
    </div>
  );
}
